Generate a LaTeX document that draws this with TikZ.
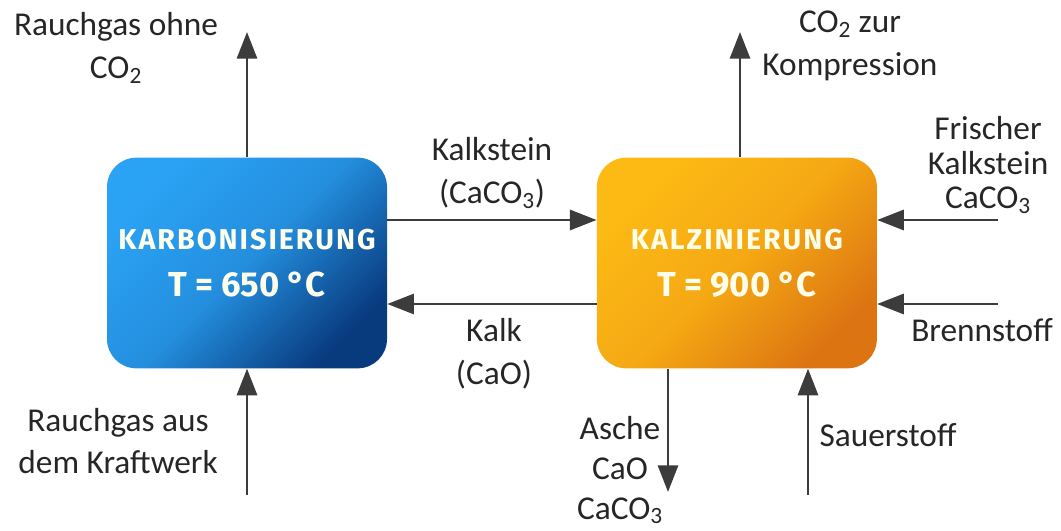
\documentclass[tikz,border=0pt]{standalone}
\usepackage{fontspec}
\setmainfont{Carlito}
\newfontfamily\boxfont{Fira Sans}[LetterSpace=7]
\newfontfamily\tempfont{Fira Sans}
\usetikzlibrary{arrows.meta,positioning}
\definecolor{flowgray}{HTML}{3C3C3C}
\definecolor{bluelight}{HTML}{2BA3F5}
\definecolor{bluedark}{HTML}{083A7E}
\definecolor{orangelight}{HTML}{FDBA14}
\definecolor{orangedark}{HTML}{DC7412}
\begin{document}
\begin{tikzpicture}[x=0.75pt,y=-0.75pt,>={Triangle[length=20pt,width=15pt]},
reactor/.style={rounded corners=22pt,minimum width=210pt,minimum height=158pt,align=center,text=white!92!yellow,font=\boxfont\bfseries\fontsize{21.5}{35}\selectfont},
bluebox/.style={reactor,top color=bluelight,bottom color=bluedark,middle color=bluelight!80!bluedark,shading angle=45},
orangebox/.style={reactor,top color=orangelight,bottom color=orangedark,middle color=orangelight!75!orangedark,shading angle=45},
flow/.style={->,draw=flowgray,line width=2.2pt},
lbl/.style={align=center,text=black!85,font=\fontsize{25}{32}\selectfont}]
\useasboundingbox (0,0) rectangle (1061,531);
\node[bluebox] (karb) at (247,263) {KARBONISIERUNG\\{\tempfont\bfseries\fontsize{26}{35}\selectfont T = 650 °C}};
\node[orangebox,right=157pt of karb] (kalz) {KALZINIERUNG\\{\tempfont\bfseries\fontsize{26}{35}\selectfont T = 900 °C}};
\coordinate (rgout) at (247,32);
\coordinate (rgin) at (247,495);
\coordinate (co2out) at (740,32);
\coordinate (kalkin) at (998,220);
\coordinate (fuelin) at (998,304);
\coordinate (ascheout) at (668,492);
\coordinate (o2in) at (808,495);
\draw[flow] (karb.north) -- (rgout);
\draw[flow] (rgin) -- (karb.south);
\draw[flow] (karb.east |- kalkin) -- (kalz.west |- kalkin);
\draw[flow] (kalz.west |- fuelin) -- (karb.east |- fuelin);
\draw[flow] (co2out |- kalz.north) -- (co2out);
\draw[flow] (kalkin) -- (kalkin -| kalz.east);
\draw[flow] (fuelin) -- (fuelin -| kalz.east);
\draw[flow] (ascheout |- kalz.south) -- (ascheout);
\draw[flow] (o2in) -- (o2in |- kalz.south);
\node[lbl] (rgohne) at (116,48) {Rauchgas ohne\\CO\textsubscript{2}};
\node[lbl] (kompr) at (850,46) {CO\textsubscript{2} zur\\Kompression};
\node[lbl] (kalkst) at (492,173) {Kalkstein\\(CaCO\textsubscript{3})};
\node[lbl] (kalk) at (494,354) {Kalk\\(CaO)};
\node[lbl] (rgaus) at (118,441) {Rauchgas aus\\dem Kraftwerk};
\node[lbl,font=\fontsize{25}{30}\selectfont] (asche) at (620,470) {Asche\\CaO\\CaCO\textsubscript{3}};
\node[lbl] (sauer) at (888,435) {Sauerstoff};
\node[lbl,font=\fontsize{25}{26}\selectfont] (frisch) at (988,165) {Frischer\\Kalkstein\\CaCO\textsubscript{3}};
\node[lbl] (brenn) at (982,330) {Brennstoff};
\end{tikzpicture}
\end{document}
